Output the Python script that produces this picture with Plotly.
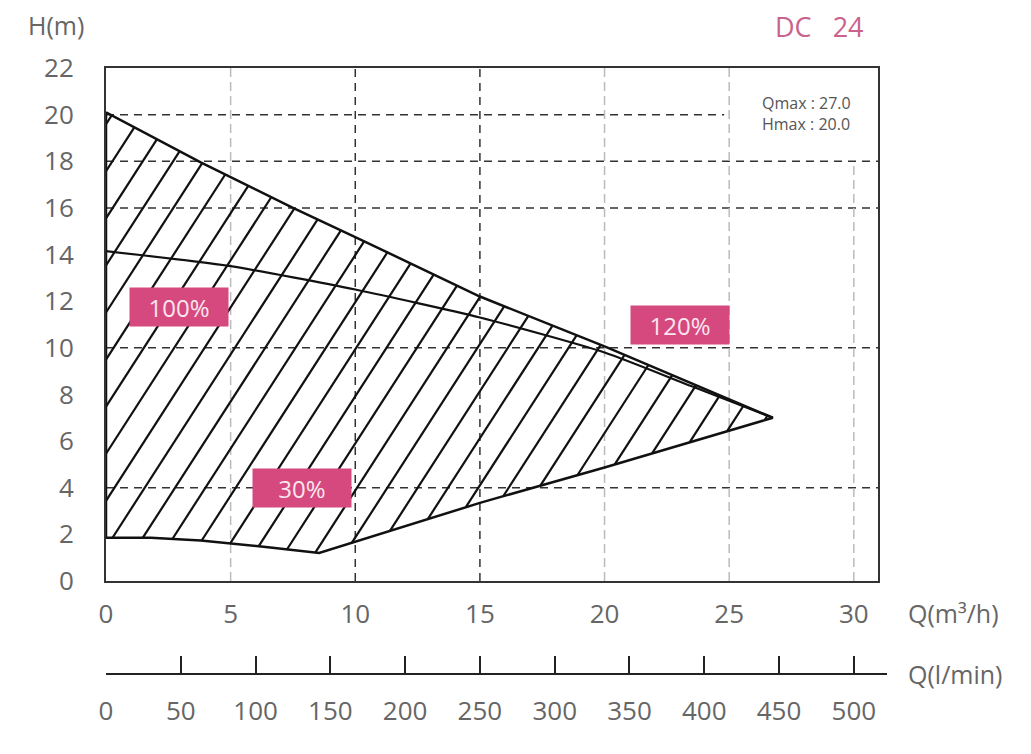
import numpy as np
import plotly.graph_objects as go

# pump curves, Q in m3/h, H in m
q_top = [0, 3.8, 7.5, 10, 15, 20, 26.75]
h_top = [20.1, 17.95, 16.0, 14.75, 12.2, 10.06, 7.0]

q_mid = [0, 5, 10, 15, 20, 23.5, 26.75]
h_mid = [14.15, 13.5, 12.5, 11.3, 9.8, 8.35, 7.0]

q_bot = [0, 1.8, 3.8, 5.1, 6.5, 8.55, 10, 15, 20, 26.75]
h_bot = [1.86, 1.86, 1.74, 1.6, 1.45, 1.2, 1.67, 3.35, 4.87, 7.0]

q_ticks = [0, 5, 10, 15, 20, 25, 30]
h_ticks = list(range(0, 23, 2))
lmin_ticks = list(range(0, 501, 50))

labels = ["100%", "30%", "120%"]
label_q = [2.93, 7.87, 23.04]
label_h = [11.74, 4.0, 11.0]

# dashed grid (the original is not regular)
grid_h = [4, 10, 16, 18, 20]
grid_h_end = [31, 31, 31, 31, 24.8]
dark_v = [10, 15]
light_v = [5, 20, 25, 30]
light_v_top = [22, 22, 22, 18]

PINK = "#d5497f"
TXT = "#666666"
FONT = "Open Sans"

Q_AXIS_MAX = 30.97
X_DOM = 772 / 781

# hatching: slanted lines clipped to the operating area
HATCH_STEP = 1.2167
HATCH_SLOPE = 0.6027   # dQ per dH
HATCH_PHASE = 0.36

xs = np.linspace(0, q_top[-1], 4000)
top = np.interp(xs, q_top, h_top)
bot = np.interp(xs, q_bot, h_bot)
hx, hy = [], []
k = np.floor(-(HATCH_PHASE + HATCH_SLOPE * max(h_top)) / HATCH_STEP)
c = HATCH_PHASE + k * HATCH_STEP
while c < q_top[-1]:
    yy = (xs - c) / HATCH_SLOPE
    ok = np.where((yy >= bot) & (yy <= top))[0]
    if len(ok) > 1:
        hx += [xs[ok[0]], xs[ok[-1]], None]
        hy += [yy[ok[0]], yy[ok[-1]], None]
    c += HATCH_STEP

fig = go.Figure()
fig.add_trace(go.Scatter(x=hx, y=hy, mode="lines",
                         line=dict(color="#111111", width=2.2),
                         hoverinfo="skip", showlegend=False))
fig.add_trace(go.Scatter(x=q_top + q_bot[::-1] + [q_top[0]],
                         y=h_top + h_bot[::-1] + [h_top[0]],
                         mode="lines", line=dict(color="#111111", width=2.5),
                         showlegend=False))
fig.add_trace(go.Scatter(x=q_mid, y=h_mid, mode="lines",
                         line=dict(color="#111111", width=2.2, shape="spline", smoothing=0.6),
                         showlegend=False))
# dummy trace so the l/min axis gets drawn
fig.add_trace(go.Scatter(x=lmin_ticks, y=[None] * len(lmin_ticks), xaxis="x2",
                         mode="markers", showlegend=False, hoverinfo="skip"))

shapes = []
for h, e in zip(grid_h, grid_h_end):
    shapes.append(dict(type="line", xref="x", yref="y", x0=0, x1=e, y0=h, y1=h,
                       line=dict(color="#333333", width=1.5, dash="8px,6px"), layer="below"))
for q in dark_v:
    shapes.append(dict(type="line", xref="x", yref="y", x0=q, x1=q, y0=0, y1=22,
                       line=dict(color="#333333", width=1.5, dash="8px,6px"), layer="below"))
for q, t in zip(light_v, light_v_top):
    shapes.append(dict(type="line", xref="x", yref="y", x0=q, x1=q, y0=0, y1=t,
                       line=dict(color="#bbbbbb", width=1.5, dash="9px,5px"), layer="below"))
# the l/min axis line runs a little past the plot frame
shapes.append(dict(type="line", xref="paper", yref="paper", x0=X_DOM - 0.002, x1=1,
                   y0=0, y1=0, line=dict(color="#222222", width=2)))

annotations = []
for t, q, h in zip(labels, label_q, label_h):
    annotations.append(dict(x=q, y=h, xref="x", yref="y", text=t, showarrow=False,
                            bgcolor=PINK, width=96, height=36,
                            font=dict(family=FONT, size=24, color="#fbe6ee")))
annotations += [
    dict(x=26.25, y=20.06, xref="x", yref="y", xanchor="left", yanchor="middle",
         align="left", text="Qmax : 27.0<br>Hmax : 20.0", showarrow=False,
         font=dict(family=FONT, size=16, color="#555555")),
    dict(x=-0.064, y=1.071, xref="paper", yref="paper", xanchor="center", yanchor="middle",
         text="H(m)", showarrow=False, font=dict(family=FONT, size=25, color=TXT)),
    dict(x=0.914, y=1.068, xref="paper", yref="paper", xanchor="center", yanchor="middle",
         text="DC\u00a0\u00a0\u00a024", showarrow=False,
         font=dict(family=FONT, size=27, color="#c9628c")),
    dict(x=1.0243, y=0.1007, xref="paper", yref="paper", xanchor="left", yanchor="middle",
         text="Q(m³/h)", showarrow=False, font=dict(family=FONT, size=25, color=TXT)),
    dict(x=1.0243, y=0.0, xref="paper", yref="paper", xanchor="left", yanchor="middle",
         text="Q(l/min)", showarrow=False, font=dict(family=FONT, size=25, color=TXT)),
]

# the page body has an 8px margin, so the figure is offset by 8px
fig.update_layout(
    width=1023, height=746,
    margin=dict(l=98, r=144, t=60, b=80),
    paper_bgcolor="white", plot_bgcolor="white",
    font=dict(family=FONT, color=TXT),
    shapes=shapes, annotations=annotations,
    xaxis=dict(domain=[0, X_DOM], range=[0, Q_AXIS_MAX], tickvals=q_ticks,
               showgrid=False, zeroline=False, showline=True, mirror=True,
               linecolor="#333333", linewidth=2, ticks="", ticklabelstandoff=9,
               tickfont=dict(family=FONT, size=26, color=TXT)),
    xaxis2=dict(range=[0, Q_AXIS_MAX * 50 / 3], anchor="free",
                position=0, overlaying="x", side="bottom", tickvals=lmin_ticks,
                showgrid=False, zeroline=False, showline=True, linecolor="#222222",
                linewidth=2, ticks="inside", ticklen=17, tickwidth=2, tickcolor="#222222",
                ticklabelstandoff=14, tickfont=dict(family=FONT, size=26, color=TXT)),
    yaxis=dict(domain=[93 / 606, 1], range=[0, 22], tickvals=h_ticks,
               showgrid=False, zeroline=False, showline=True, mirror=True,
               linecolor="#333333", linewidth=2, ticks="", ticklabelstandoff=25,
               tickfont=dict(family=FONT, size=26, color=TXT)),
)

fig.write_html("out.html")
